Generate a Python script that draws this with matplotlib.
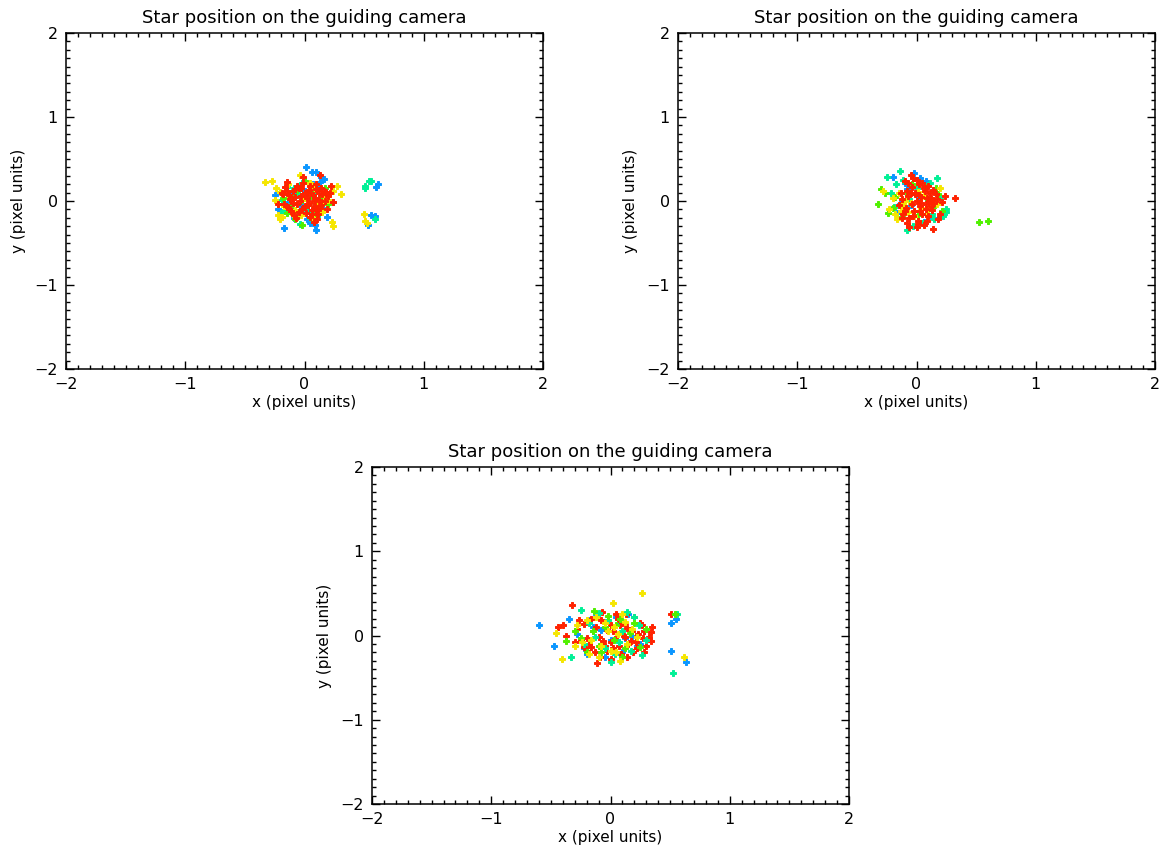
import matplotlib
matplotlib.use("Agg")
import matplotlib.pyplot as plt
from matplotlib.ticker import MultipleLocator

# colours (time order: blue -> teal -> green -> yellow -> red)
colours = ["#0a96ff", "#00f096", "#50f000", "#f5e600", "#ff2200"]

# panel 1
blue1_x = [0.01, 0.06, 0.10, 0.14, 0.16, 0.13, -0.25, -0.22, -0.17, 0.02, 0.05, 0.09, 0.10, 0.19, -0.07, -0.04, -0.10, 0.18, 0.24, -0.12, 0.04, -0.02, 0.08, 0.12, -0.15, 0.00, 0.07, -0.05, 0.15, -0.09, 0.62, 0.60, 0.56, 0.59, 0.53]
blue1_y = [0.40, 0.35, 0.34, 0.29, 0.26, 0.23, 0.07, -0.09, -0.32, -0.21, -0.26, -0.29, -0.35, -0.19, -0.13, -0.16, 0.09, 0.10, -0.01, 0.02, 0.05, -0.06, -0.10, 0.15, -0.04, 0.12, 0.20, 0.18, -0.08, -0.20, 0.20, 0.17, -0.17, -0.18, -0.28]
teal1_x = [-0.15, -0.09, -0.19, -0.16, -0.035, 0.12, 0.15, -0.12, -0.05, 0.03, 0.08, -0.20, 0.10, -0.02, 0.05, -0.10, 0.18, 0.00, -0.07, 0.51, 0.51, 0.54, 0.56, 0.59]
teal1_y = [0.17, 0.16, 0.01, -0.11, -0.27, -0.15, 0.03, -0.05, 0.08, -0.12, 0.12, -0.14, -0.03, 0.21, -0.20, 0.03, 0.07, -0.08, -0.18, 0.18, 0.16, 0.24, 0.24, -0.21]
green1_x = [0.06, 0.07, -0.02, 0.17, -0.15, -0.10, -0.02, 0.03, 0.11, -0.06, 0.14, -0.18, 0.00, 0.09, -0.12, 0.04, 0.20, -0.08, 0.13, -0.04, 0.08]
green1_y = [0.19, 0.04, 0.01, 0.15, -0.14, 0.07, -0.29, -0.05, -0.09, 0.13, 0.05, 0.04, 0.24, -0.17, -0.08, 0.10, -0.04, -0.22, -0.13, -0.12, 0.16]
yellow1_x = [-0.33, -0.27, -0.24, -0.205, -0.25, -0.205, -0.22, 0.24, 0.31, 0.23, 0.236, -0.04, 0.20, 0.17, 0.27, -0.12, -0.17, 0.05, 0.12, -0.08, 0.02, -0.03, 0.15, 0.09, -0.14, 0.07, 0.18, -0.19, 0.50, 0.507, 0.527, -0.10, 0.00, 0.13]
yellow1_y = [0.23, 0.24, 0.16, 0.11, 0.01, -0.21, -0.17, 0.12, 0.08, -0.25, -0.30, 0.31, 0.01, 0.10, 0.18, 0.05, -0.06, 0.22, -0.04, -0.11, 0.08, -0.17, -0.13, 0.14, 0.20, -0.20, 0.04, -0.19, -0.16, -0.235, -0.265, -0.15, 0.04, -0.02]
red1_x = [-0.15, -0.01, 0.13, 0.22, 0.236, -0.225, -0.17, 0.107, -0.10, -0.05, 0.00, 0.05, 0.10, 0.15, -0.12, -0.08, -0.03, 0.02, 0.07, 0.12, 0.18, -0.14, -0.06, 0.04, 0.09, -0.11, -0.02, 0.06, 0.14, -0.09, 0.01, 0.08, -0.04, 0.03, 0.11, -0.13, 0.16, 0.20, -0.07, 0.05, -0.01, 0.10, -0.18, 0.19, 0.08,
          -0.19, -0.16, -0.13, -0.06, 0.00, 0.04, 0.09, 0.13, 0.17, -0.10, -0.03, 0.06, 0.12, 0.21, -0.15, -0.05, 0.03, 0.14, -0.08, 0.10]
red1_y = [0.23, 0.29, 0.31, 0.18, -0.015, -0.03, -0.03, -0.22, 0.12, 0.15, 0.10, 0.18, 0.14, 0.08, 0.02, 0.05, 0.06, 0.03, 0.07, 0.01, 0.11, -0.07, -0.04, -0.02, -0.06, -0.12, -0.09, -0.11, -0.05, -0.17, -0.14, 0.00, 0.00, 0.09, -0.15, 0.07, 0.12, 0.06, -0.20, -0.19, 0.22, 0.20, 0.08, -0.09, -0.25,
          0.10, 0.17, -0.10, 0.18, -0.06, 0.13, 0.04, -0.08, 0.00, -0.02, 0.16, -0.16, 0.10, 0.09, 0.12, -0.13, -0.05, 0.15, 0.14, -0.11]

# panel 2
blue2_x = [-0.20, 0.03, -0.10, 0.08, 0.15, -0.05, 0.12, -0.14, 0.02, 0.18, -0.02, 0.06, -0.08, 0.10, -0.16]
blue2_y = [0.29, 0.27, 0.21, 0.24, 0.12, -0.05, -0.18, -0.03, 0.05, -0.20, 0.33, -0.25, 0.14, 0.01, -0.14]
teal2_x = [-0.14, -0.245, -0.08, 0.25, 0.25, 0.11, -0.17, -0.21, 0.05, 0.15, -0.03, 0.20, -0.11, 0.09, 0.22, -0.19, 0.00, 0.17, -0.06, 0.13]
teal2_y = [0.36, 0.29, -0.34, -0.13, -0.09, 0.22, 0.20, 0.10, -0.26, -0.22, -0.30, 0.05, 0.25, 0.18, -0.18, -0.07, 0.15, 0.27, 0.02, -0.15]
green2_x = [0.52, 0.60, -0.325, -0.30, -0.24, -0.12, 0.07, 0.18, -0.18, 0.14, -0.04, 0.21, 0.01, -0.26, 0.10, -0.09, 0.16, -0.20]
green2_y = [-0.245, -0.235, -0.03, 0.14, -0.14, -0.19, 0.17, 0.08, 0.05, -0.07, 0.20, -0.12, -0.17, 0.09, 0.02, 0.10, 0.16, -0.08]
yellow2_x = [-0.28, -0.16, 0.20, -0.20, -0.12, -0.07, 0.04, -0.15, 0.10, -0.23, -0.02, 0.14, -0.10, 0.06, -0.18, 0.01, 0.17, -0.05, -0.13, 0.08]
yellow2_y = [0.12, -0.22, 0.15, 0.03, -0.05, -0.13, -0.08, 0.09, -0.10, -0.09, -0.18, 0.01, 0.00, 0.06, -0.16, 0.11, -0.04, -0.02, -0.12, -0.15]
red2_x = [0.32, -0.06, 0.00, 0.14, 0.21, 0.24, -0.05, -0.10, -0.03, 0.02, 0.06, 0.11, -0.08, -0.01, 0.04, 0.09, 0.15, -0.12, -0.04, 0.03, 0.08, 0.13, -0.09, -0.02, 0.05, 0.10, 0.18, -0.15, 0.00, 0.07, -0.06, 0.12, -0.11, 0.16, 0.01, -0.04, 0.20, 0.09, -0.07, 0.04,
          -0.13, -0.07, 0.00, 0.05, 0.10, 0.14, -0.10, -0.03, 0.03, 0.08, 0.12, -0.05, 0.01, 0.06, -0.12, 0.17, -0.01, 0.11, -0.08, 0.02]
red2_y = [0.04, -0.31, -0.31, -0.33, -0.01, 0.06, 0.31, 0.24, 0.27, 0.20, 0.15, 0.10, 0.12, 0.08, 0.05, 0.03, -0.02, 0.02, -0.03, -0.06, -0.09, -0.11, -0.08, -0.12, -0.15, -0.18, -0.21, -0.05, 0.00, 0.12, -0.20, 0.04, -0.16, 0.08, -0.24, 0.17, -0.15, -0.24, 0.06, -0.02,
          0.10, 0.22, 0.25, 0.22, 0.18, 0.13, -0.12, -0.18, -0.12, -0.04, -0.06, 0.09, -0.27, -0.28, -0.20, 0.02, 0.10, 0.00, -0.26, 0.07]

# panel 3
blue3_x = [-0.60, -0.35, -0.47, -0.12, 0.505, 0.55, 0.51, 0.635, -0.20, 0.05, 0.15, -0.05, 0.22, -0.28, 0.10, 0.28, -0.15, 0.00, 0.18, -0.08, 0.08, -0.22, 0.25, 0.12, -0.18]
blue3_y = [0.125, 0.19, -0.13, 0.26, 0.15, 0.195, -0.18, -0.31, -0.22, 0.22, 0.25, -0.25, -0.12, 0.02, -0.20, 0.05, 0.10, -0.05, 0.00, 0.06, 0.14, -0.15, -0.10, -0.03, 0.18]
teal3_x = [-0.33, 0.0, -0.25, 0.26, 0.56, 0.52, -0.10, 0.14, 0.20, -0.18, 0.04, -0.05, 0.30, -0.22, 0.10, 0.24, -0.13, 0.07, -0.02, 0.17]
teal3_y = [-0.26, -0.31, 0.30, -0.23, 0.26, -0.44, 0.27, 0.28, 0.22, 0.15, -0.22, -0.15, -0.05, -0.10, 0.05, 0.12, -0.02, -0.08, 0.18, -0.18]
green3_x = [-0.37, -0.14, 0.54, -0.30, -0.05, 0.12, 0.20, -0.20, 0.03, 0.25, -0.10, 0.08, -0.25, 0.16, -0.02, 0.30, -0.15, 0.10, -0.08, 0.05]
green3_y = [-0.07, 0.29, 0.26, 0.05, 0.10, -0.15, 0.15, -0.20, -0.05, -0.14, -0.12, 0.20, -0.03, 0.03, 0.23, 0.08, 0.05, -0.25, -0.19, 0.13]
yellow3_x = [0.26, 0.02, -0.46, -0.41, 0.08, 0.615, -0.28, -0.20, -0.12, -0.05, 0.03, 0.10, 0.18, -0.24, -0.16, -0.08, 0.00, 0.06, 0.14, 0.22, -0.18, -0.02, 0.12, -0.10, 0.05, -0.30]
yellow3_y = [0.50, 0.39, 0.03, -0.28, -0.30, -0.25, 0.12, 0.18, 0.22, 0.15, 0.10, 0.25, 0.08, -0.08, -0.05, -0.12, -0.18, 0.02, -0.10, -0.02, -0.22, 0.05, 0.16, -0.25, -0.20, -0.12]
red3_x = [-0.32, -0.44, -0.40, -0.37, -0.11, 0.14, 0.28, 0.35, 0.34, 0.34, 0.51, -0.28, -0.22, -0.15, -0.08, 0.00, 0.06, 0.12, 0.20, 0.26, -0.25, -0.18, -0.10, -0.03, 0.04, 0.10, 0.17, 0.23, 0.30, -0.20, -0.13, -0.05, 0.02, 0.09, 0.15, 0.22, -0.30, 0.05, -0.07, 0.18, 0.12, -0.16, 0.27, 0.00,
          -0.26, -0.20, -0.12, -0.06, 0.02, 0.08, 0.14, 0.21, 0.28, -0.16, -0.09, 0.00, 0.07, 0.13, 0.19, 0.25, -0.22, 0.10, -0.03, 0.32]
red3_y = [0.36, 0.10, 0.125, -0.01, -0.33, -0.26, -0.19, 0.10, 0.045, -0.07, 0.26, 0.08, 0.14, 0.05, 0.18, 0.12, 0.20, 0.15, 0.22, 0.12, -0.05, -0.10, -0.02, 0.06, -0.04, 0.02, -0.06, 0.02, -0.12, -0.18, -0.20, -0.12, -0.15, -0.22, -0.10, -0.15, -0.08, 0.25, 0.28, 0.05, -0.02, 0.20, -0.03, -0.28,
          0.18, -0.03, 0.10, -0.06, 0.05, 0.12, 0.09, -0.08, 0.05, -0.14, -0.25, -0.08, -0.12, 0.25, -0.20, 0.15, -0.14, -0.26, -0.18, -0.02]

panels = [
    [(blue1_x, blue1_y), (teal1_x, teal1_y), (green1_x, green1_y), (yellow1_x, yellow1_y), (red1_x, red1_y)],
    [(blue2_x, blue2_y), (teal2_x, teal2_y), (green2_x, green2_y), (yellow2_x, yellow2_y), (red2_x, red2_y)],
    [(blue3_x, blue3_y), (teal3_x, teal3_y), (green3_x, green3_y), (yellow3_x, yellow3_y), (red3_x, red3_y)],
]
# drawing order of the colour groups in each panel (last one is on top)
draw_order = [[0, 1, 2, 3, 4], [0, 1, 2, 3, 4], [0, 4, 1, 2, 3]]

W, H = 1163, 856
boxes = [(66, 33, 543, 369), (678, 33, 1155, 369), (372, 467, 849, 804)]

fig = plt.figure(figsize=(W / 100, H / 100), dpi=100)

for box, series, order in zip(boxes, panels, draw_order):
    l, t, r, b = box
    ax = fig.add_axes([l / W, 1 - b / H, (r - l) / W, (b - t) / H])
    for i in order:
        xs, ys = series[i]
        c = colours[i]
        # thick filled plus, like the IDL symbol
        ax.plot(xs, ys, linestyle="none", marker="P", markersize=5.0,
                markeredgewidth=0.7, markeredgecolor=c, color=c)
    ax.set_xlim(-2, 2)
    ax.set_ylim(-2, 2)
    ax.xaxis.set_major_locator(MultipleLocator(1))
    ax.yaxis.set_major_locator(MultipleLocator(1))
    ax.xaxis.set_minor_locator(MultipleLocator(0.1))
    ax.yaxis.set_minor_locator(MultipleLocator(0.1))
    ax.tick_params(which="both", direction="in", top=True, right=True,
                   width=1.0, labelsize=11.5, pad=6)
    ax.tick_params(which="major", length=6)
    ax.tick_params(which="minor", length=3)
    for s in ax.spines.values():
        s.set_linewidth(1.1)
    ax.set_title("Star position on the guiding camera", fontsize=13, pad=7)
    ax.set_xlabel("x (pixel units)", fontsize=11, labelpad=2)
    ax.set_ylabel("y (pixel units)", fontsize=11, labelpad=6)

fig.savefig("out.png", dpi=100)
